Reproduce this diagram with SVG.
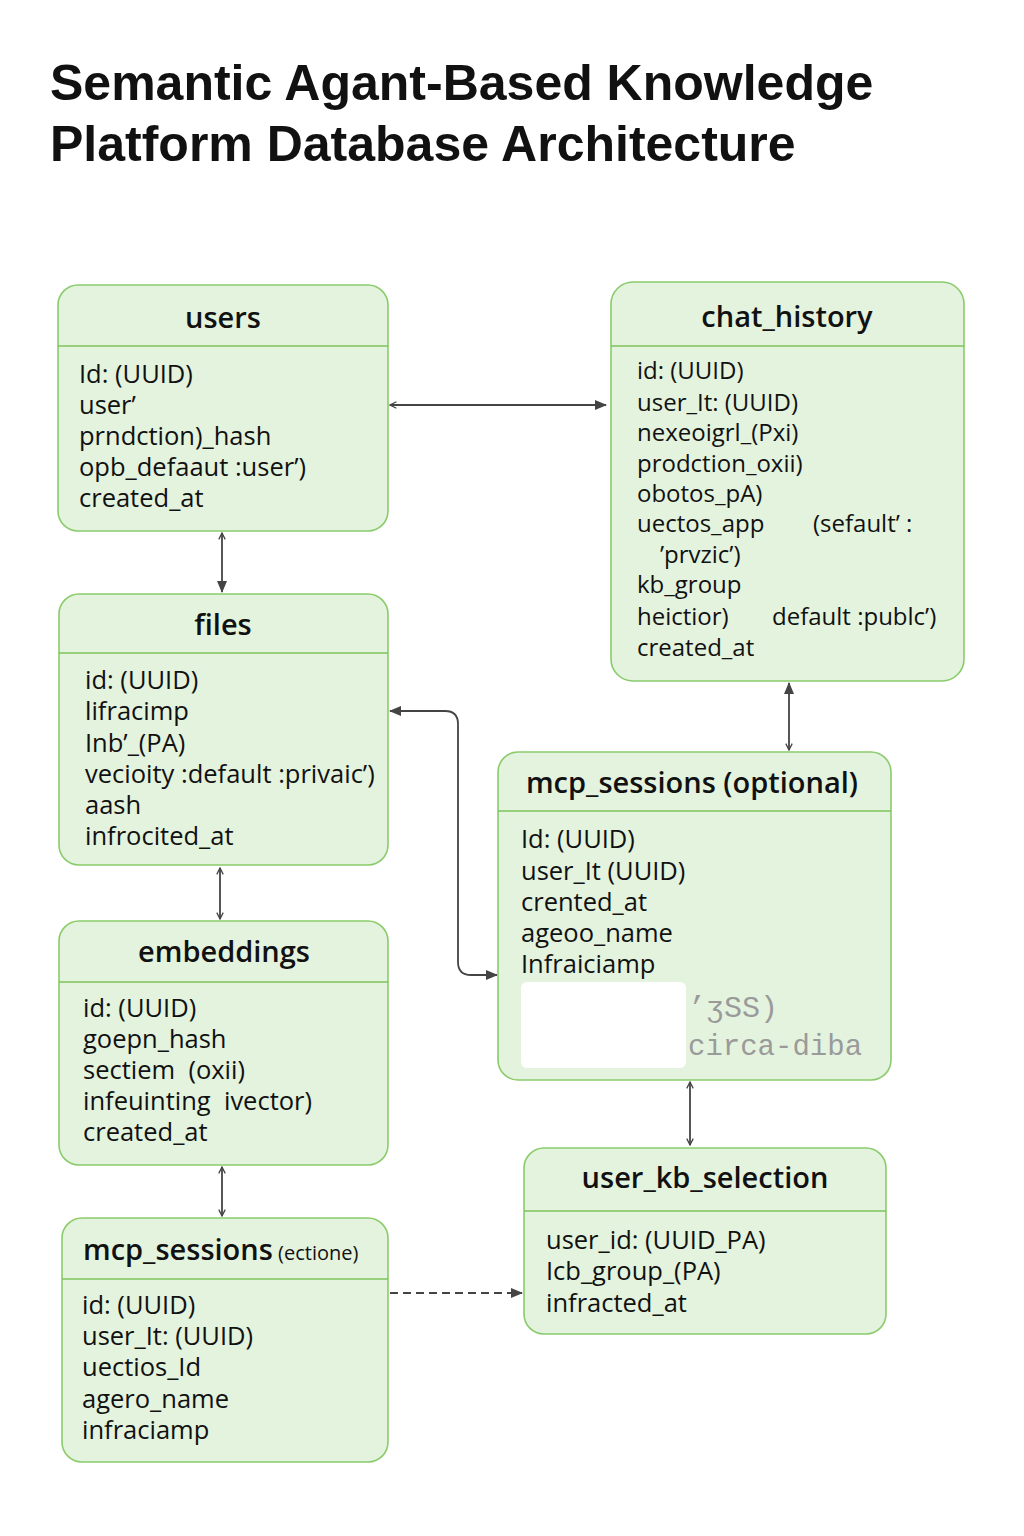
<svg xmlns="http://www.w3.org/2000/svg" width="1024" height="1536" viewBox="0 0 1024 1536">
<style>
.title{font-family:"Liberation Sans",Arial,sans-serif;font-weight:bold;font-size:50px;fill:#111}
.box{fill:#e4f3de;stroke:#8acb6c;stroke-width:1.6}
.div{stroke:#7cc45a;stroke-width:1.6}
.hd{font-family:"Open Sans","Liberation Sans",sans-serif;font-weight:600;font-size:29px;fill:#111;text-anchor:middle}
.fd{font-family:"Open Sans","Liberation Sans",sans-serif;font-size:25.5px;fill:#111;white-space:pre}
.fs{font-size:24px}
.ln{fill:none;stroke:#444;stroke-width:1.8}
.mono{font-family:"Liberation Mono","Courier New",monospace;fill:#9a9a9a}
</style>
<defs>
<marker id="af" viewBox="0 0 12 10" refX="11" refY="5" markerWidth="12" markerHeight="10" markerUnits="userSpaceOnUse" orient="auto-start-reverse">
<path d="M0,0 L12,5 L0,10 Z" fill="#444"/>
</marker>
<marker id="ao" viewBox="0 0 10 10" refX="9" refY="5" markerWidth="8" markerHeight="8" markerUnits="userSpaceOnUse" orient="auto-start-reverse">
<path d="M1,1 L9,5 L1,9" fill="none" stroke="#444" stroke-width="1.6"/>
</marker>
</defs>
<rect width="1024" height="1536" fill="#ffffff"/>
<text class="title" x="50" y="100">Semantic Agant-Based Knowledge</text>
<text class="title" x="50" y="161">Platform Database Architecture</text>

<g id="connectors">
<path class="ln" d="M390,405 H606" marker-start="url(#ao)" marker-end="url(#af)"/>
<path class="ln" d="M222,533 V592" marker-start="url(#ao)" marker-end="url(#af)"/>
<path class="ln" d="M390,711 H445 Q458,711 458,724 V962 Q458,975 471,975 H497" marker-start="url(#af)" marker-end="url(#af)"/>
<path class="ln" d="M789,683 V750" marker-start="url(#af)" marker-end="url(#ao)"/>
<path class="ln" d="M220,868 V919" marker-start="url(#ao)" marker-end="url(#ao)"/>
<path class="ln" d="M222,1167 V1216" marker-start="url(#ao)" marker-end="url(#ao)"/>
<path class="ln" d="M690,1082 V1145" marker-start="url(#ao)" marker-end="url(#ao)"/>
<path class="ln" d="M390,1293 H522" stroke-dasharray="8 5" stroke="#666" marker-end="url(#af)"/>
</g>

<g id="users">
<rect class="box" x="58" y="285" width="330" height="246" rx="20"/>
<line class="div" x1="58" y1="346" x2="388" y2="346"/>
<text class="hd" x="223" y="328">users</text>
<text class="fd" x="79" y="383">Id: (UUID)</text>
<text class="fd" x="79" y="414">user’</text>
<text class="fd" x="79" y="445">prndction)_hash</text>
<text class="fd" x="79" y="476">opb_defaaut :user’)</text>
<text class="fd" x="79" y="507">created_at</text>
</g>

<g id="chat_history">
<rect class="box" x="611" y="282" width="353" height="399" rx="22"/>
<line class="div" x1="611" y1="346" x2="964" y2="346"/>
<text class="hd" x="787" y="327">chat_history</text>
<text class="fd fs" x="637" y="379">id: (UUID)</text>
<text class="fd fs" x="637" y="411">user_It: (UUID)</text>
<text class="fd fs" x="637" y="441">nexeoigrl_(Pxi)</text>
<text class="fd fs" x="637" y="472">prodction_oxii)</text>
<text class="fd fs" x="637" y="502">obotos_pA)</text>
<text class="fd fs" x="637" y="532">uectos_app</text>
<text class="fd fs" x="813" y="532">(sefault’ :</text>
<text class="fd fs" x="660" y="563">’prvzic’)</text>
<text class="fd fs" x="637" y="593">kb_group</text>
<text class="fd fs" x="637" y="625">heictior)</text>
<text class="fd fs" x="772" y="625">default :publc’)</text>
<text class="fd fs" x="637" y="656">created_at</text>
</g>

<g id="files">
<rect class="box" x="59" y="594" width="329" height="271" rx="20"/>
<line class="div" x1="59" y1="653" x2="388" y2="653"/>
<text class="hd" x="223" y="635">files</text>
<text class="fd" x="85" y="689">id: (UUID)</text>
<text class="fd" x="85" y="720">lifracimp</text>
<text class="fd" x="85" y="752">Inb’_(PA)</text>
<text class="fd" x="85" y="783">vecioity :default :privaic’)</text>
<text class="fd" x="85" y="814">aash</text>
<text class="fd" x="85" y="845">infrocited_at</text>
</g>

<g id="mcp_sessions_optional">
<rect class="box" x="498" y="752" width="393" height="328" rx="20"/>
<line class="div" x1="498" y1="811" x2="891" y2="811"/>
<text class="hd" x="692" y="793">mcp_sessions (optional)</text>
<text class="fd" x="521" y="848">Id: (UUID)</text>
<text class="fd" x="521" y="880">user_It (UUID)</text>
<text class="fd" x="521" y="911">crented_at</text>
<text class="fd" x="521" y="942">ageoo_name</text>
<text class="fd" x="521" y="973">Infraiciamp</text>
<rect x="521" y="982" width="165" height="86" rx="6" fill="#ffffff"/>
<text class="mono" x="688" y="1017" font-size="30">’ʒSS)</text>
<text class="mono" x="688" y="1055" font-size="29">circa-diba</text>
</g>

<g id="embeddings">
<rect class="box" x="59" y="921" width="329" height="244" rx="20"/>
<line class="div" x1="59" y1="982" x2="388" y2="982"/>
<text class="hd" x="224" y="962">embeddings</text>
<text class="fd" x="83" y="1017">id: (UUID)</text>
<text class="fd" x="83" y="1048">goepn_hash</text>
<text class="fd" x="83" y="1079">sectiem  (oxii)</text>
<text class="fd" x="83" y="1110">infeuinting  ivector)</text>
<text class="fd" x="83" y="1141">created_at</text>
</g>

<g id="mcp_sessions_ectione">
<rect class="box" x="62" y="1218" width="326" height="244" rx="20"/>
<line class="div" x1="62" y1="1279" x2="388" y2="1279"/>
<text class="hd" x="83" y="1260" style="text-anchor:start">mcp_sessions<tspan font-weight="normal" font-size="20"> (ectione)</tspan></text>
<text class="fd" x="82" y="1314">id: (UUID)</text>
<text class="fd" x="82" y="1345">user_It: (UUID)</text>
<text class="fd" x="82" y="1376">uectios_Id</text>
<text class="fd" x="82" y="1408">agero_name</text>
<text class="fd" x="82" y="1439">infraciamp</text>
</g>

<g id="user_kb_selection">
<rect class="box" x="524" y="1148" width="362" height="186" rx="20"/>
<line class="div" x1="524" y1="1211" x2="886" y2="1211"/>
<text class="hd" x="705" y="1188">user_kb_selection</text>
<text class="fd" x="546" y="1249">user_id: (UUID_PA)</text>
<text class="fd" x="546" y="1280">Icb_group_(PA)</text>
<text class="fd" x="546" y="1312">infracted_at</text>
</g>
</svg>
